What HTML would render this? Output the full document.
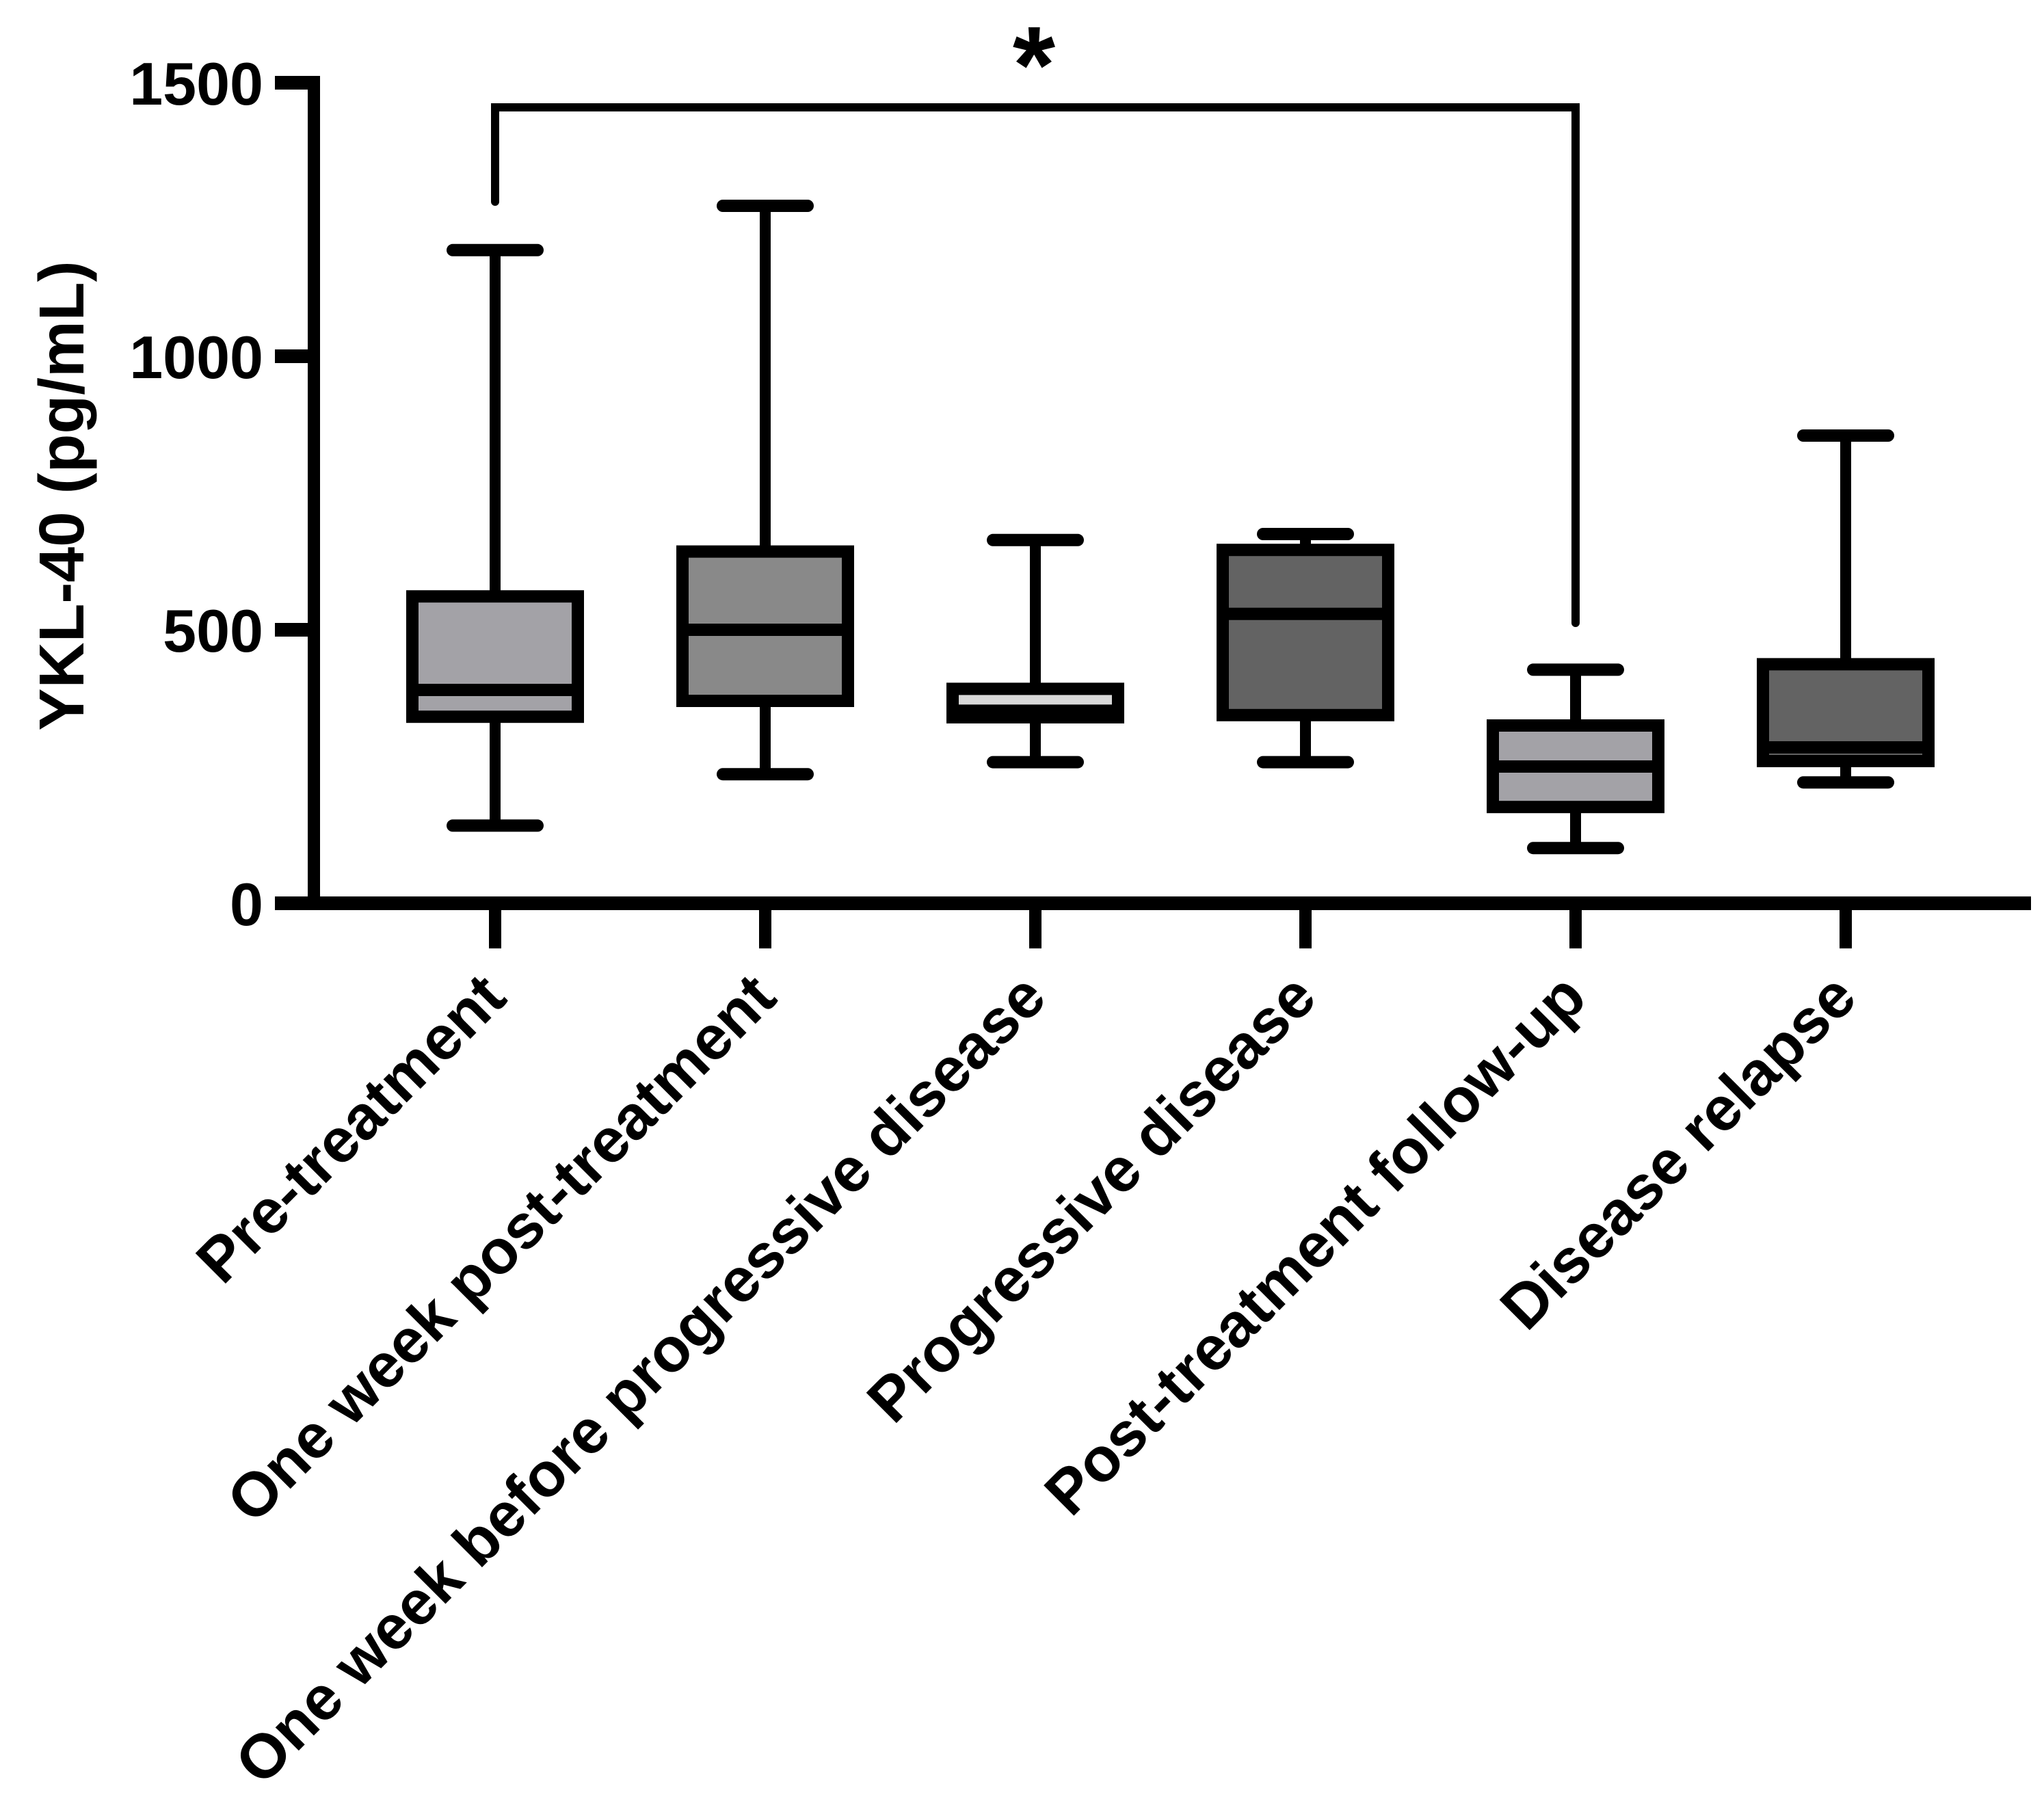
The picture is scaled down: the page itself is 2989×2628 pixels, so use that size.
<!DOCTYPE html>
<html><head><meta charset="utf-8"><style>
html,body{margin:0;padding:0;background:#fff;}
svg{display:block;}
text{font-family:"Liberation Sans",Arial,sans-serif;font-weight:bold;fill:#000;}
</style></head><body>
<svg id="chart" width="2989" height="2628" viewBox="0 0 2989 2628" xmlns="http://www.w3.org/2000/svg">
<g id="axes"></g>
<g id="boxes"></g>
<g id="labels"></g>
</svg>
<script>
const categories = ["Pre-treatment","One week post-treatment","One week before progressive disease","Progressive disease","Post-treatment follow-up","Disease relapse"];
const whiskerLow = [142, 236, 258, 258, 101, 221];
const q1Values = [341, 370, 340, 344, 176, 260];
const medianValues = [390, 500, 352, 529, 250, 285];
const q3Values = [561, 643, 392, 646, 325, 437];
const whiskerHigh = [1194, 1275, 664, 675, 427, 855];
const fills = ["#a3a2a7","#898989","#d8d8d8","#636363","#a3a2a7","#636363"];
const yTicks = [0, 500, 1000, 1500];

const NS = "http://www.w3.org/2000/svg";
const y0 = 1321, yScale = 0.8;
function yPos(v){ return y0 - v*yScale; }
function xPos(i){ return 724 + i*395; }
function mk(tag, attrs, parent){
  const e = document.createElementNS(NS, tag);
  for (const k in attrs) e.setAttribute(k, attrs[k]);
  parent.appendChild(e);
  return e;
}
const axes = document.getElementById('axes');
const boxes = document.getElementById('boxes');
const labels = document.getElementById('labels');

let yl = mk('line',{x1:459,y1:yPos(1500)-9,x2:459,y2:y0+9,stroke:'#000','stroke-width':18},axes);


let xl = mk('line',{x1:450,y1:y0,x2:2970,y2:y0,stroke:'#000','stroke-width':20},axes);


yTicks.forEach(v=>{
  const t = mk('line',{x1:402,y1:yPos(v),x2:468,y2:yPos(v),stroke:'#000','stroke-width':20},axes);
  
  
  const tx = mk('text',{x:385,y:yPos(v)+32,'text-anchor':'end','font-size':88},axes);
  tx.textContent = v;
  
  
});
const yt = mk('text',{x:0,y:0,'text-anchor':'middle','font-size':93,transform:'translate(122,725) rotate(-90)'},axes);
yt.textContent = 'YKL-40 (pg/mL)';



categories.forEach((c,i)=>{
  const x = xPos(i);
  const g = mk('g',{},boxes);
  
  
  mk('line',{x1:x,y1:yPos(whiskerHigh[i]),x2:x,y2:yPos(q3Values[i]),stroke:'#000','stroke-width':16},g);
  mk('line',{x1:x,y1:yPos(q1Values[i]),x2:x,y2:yPos(whiskerLow[i]),stroke:'#000','stroke-width':16},g);
  const capH = mk('line',{x1:x-62,y1:yPos(whiskerHigh[i]),x2:x+62,y2:yPos(whiskerHigh[i]),stroke:'#000','stroke-width':18,'stroke-linecap':'round'},g);
  
  
  const capL = mk('line',{x1:x-62,y1:yPos(whiskerLow[i]),x2:x+62,y2:yPos(whiskerLow[i]),stroke:'#000','stroke-width':18,'stroke-linecap':'round'},g);
  
  
  const r = mk('rect',{x:x-121,y:yPos(q3Values[i]),width:242,height:yPos(q1Values[i])-yPos(q3Values[i]),fill:fills[i],stroke:'#000','stroke-width':18},g);
  
  
  const m = mk('line',{x1:x-121,y1:yPos(medianValues[i]),x2:x+121,y2:yPos(medianValues[i]),stroke:'#000','stroke-width':18},g);
  
  
  const t = mk('line',{x1:x,y1:y0,x2:x,y2:1387,stroke:'#000','stroke-width':18},axes);
  
  
  const lb = mk('text',{x:0,y:0,'text-anchor':'end','font-size':91,transform:'translate('+(x+20)+',1463) rotate(-45)'},labels);
  lb.textContent = c;
  
  
});

const br = mk('path',{d:'M'+xPos(0)+' 295 V157 H'+xPos(4)+' V911',fill:'none',stroke:'#000','stroke-width':12,'stroke-linecap':'round'},axes);


const star = mk('text',{x:1512,y:150,'text-anchor':'middle','font-size':160},axes);
star.textContent = '*';


</script>
</body></html>
